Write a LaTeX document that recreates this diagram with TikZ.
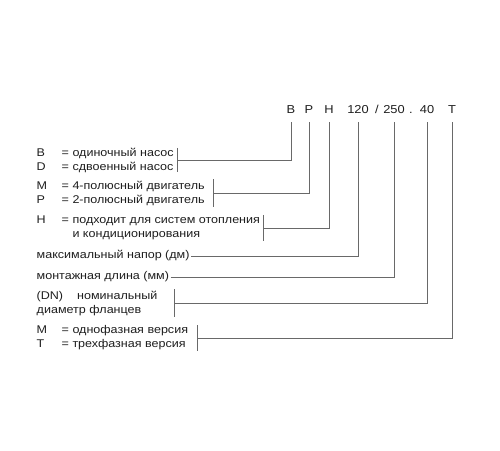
\documentclass[tikz,border=0pt]{standalone}
\usepackage{fontspec}
\setmainfont[FakeStretch=1.12]{Liberation Sans}
\usetikzlibrary{positioning}
\definecolor{codeText}{RGB}{30,30,30}
\definecolor{codeLine}{RGB}{105,105,105}
\newcommand{\keyletter}[1]{\makebox[25pt][l]{#1}}
\tikzset{
    codechar/.style={
        font=\fontsize{11.5}{13}\selectfont,
        text=codeText,
        inner xsep=0pt,
        inner ysep=9pt,
        text height=8pt,
        text depth=0pt
    },
    keytext/.style={
        font=\fontsize{11.2}{14}\selectfont,
        text=codeText,
        align=left,
        anchor=west,
        inner xsep=1.5pt,
        inner ysep=0pt
    },
    brk/.style={minimum width=0pt, minimum height=#1, inner sep=0pt},
    conn/.style={draw=codeLine, line width=0.8pt}
}

\begin{document}
\begin{tikzpicture}[x=1pt, y=-1pt]
    \useasboundingbox (0,0) rectangle (500,450);
    % type code
    \node[codechar] (hB) at (291,109) {B};
    \node[codechar] (hP) at (309,109) {P};
    \node[codechar] (hH) at (329,109) {H};
    \node[codechar] (h120) at (358,109) {120};
    \node[codechar] (hSlash) at (377,109) {/};
    \node[codechar] (h250) at (394,109) {250};
    \node[codechar] (hDot) at (411,109) {.};
    \node[codechar] (h40) at (427,109) {40};
    \node[codechar] (hT) at (452,109) {T};

    % legend
    \node[keytext] (kBDtext) at (35,160) {\keyletter{B}= одиночный насос\\\keyletter{D}= сдвоенный насос};
    \node[keytext] (kMPtext) at (35,193) {\keyletter{M}= 4-полюсный двигатель\\\keyletter{P}= 2-полюсный двигатель};
    \node[keytext] (kHtext) at (35,228) {\keyletter{H}= подходит для систем отопления\\\keyletter{}\phantom{= }и кондиционирования};
    \node[keytext] (kNapor) at (35,256) {максимальный напор (дм)};
    \node[keytext] (kDlina) at (35,277) {монтажная длина (мм)};
    \node[keytext] (kDNtext) at (35,303) {(DN)\hspace{14pt}номинальный\\диаметр фланцев};
    \node[keytext] (kMTtext) at (35,338) {\keyletter{M}= однофазная версия\\\keyletter{T}= трехфазная версия};

    % brackets
    \node[brk=24pt] (kBD) at (177,160) {};
    \node[brk=27pt] (kMP) at (213,193) {};
    \node[brk=26pt] (kH) at (263,228) {};
    \node[brk=27pt] (kDN) at (174,303) {};
    \node[brk=25pt] (kMT) at (197,338) {};
    \foreach \k in {kBD, kMP, kH, kDN, kMT}
        \draw[conn] (\k.north) -- (\k.south);

    % connectors
    \draw[conn] (kBD) -| (hB);
    \draw[conn] (kMP) -| (hP);
    \draw[conn] (kH) -| (hH);
    \draw[conn] (kNapor.east) -| (h120);
    \draw[conn] (kDlina.east) -| (h250);
    \draw[conn] (kDN) -| (h40);
    \draw[conn] (kMT) -| (hT);
\end{tikzpicture}
\end{document}
